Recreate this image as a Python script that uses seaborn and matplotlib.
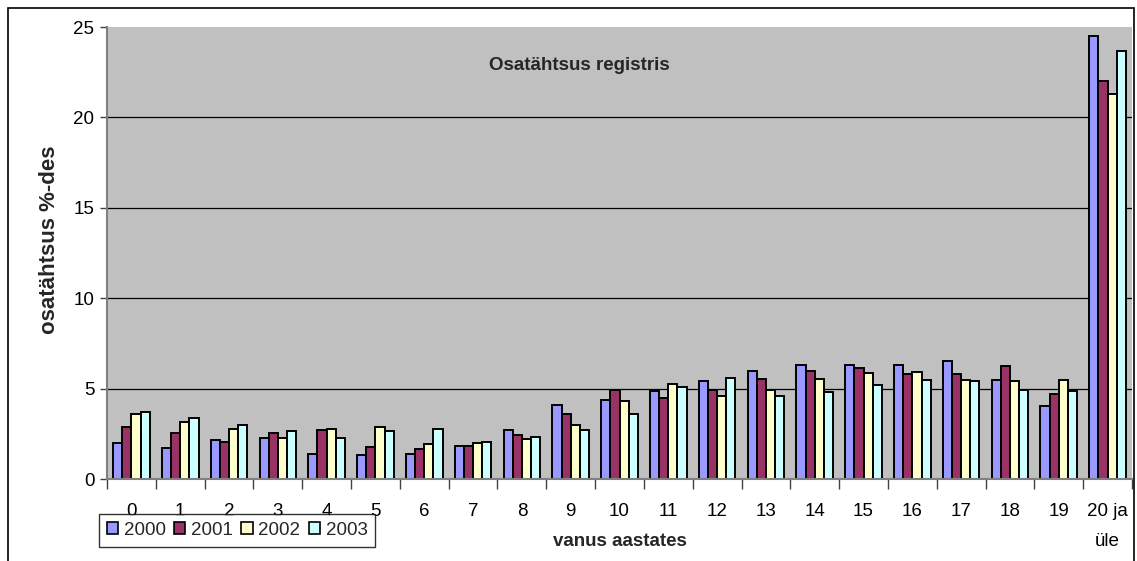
import numpy as np
import pandas as pd
import matplotlib
matplotlib.use("Agg")
import matplotlib.pyplot as plt
from matplotlib.ticker import FixedLocator
from matplotlib.patches import Rectangle
import seaborn as sns

# ---- data ----
ages = ["0", "1", "2", "3", "4", "5", "6", "7", "8", "9", "10", "11", "12", "13",
        "14", "15", "16", "17", "18", "19", "20 ja\nüle"]
years = ["2000", "2001", "2002", "2003"]
v2000 = [2.0, 1.7, 2.15, 2.25, 1.4, 1.3, 1.4, 1.8, 2.7, 4.1, 4.35, 4.85, 5.4, 6.0,
         6.3, 6.3, 6.3, 6.55, 5.45, 4.05, 24.5]
v2001 = [2.9, 2.55, 2.05, 2.55, 2.7, 1.75, 1.65, 1.8, 2.45, 3.6, 4.95, 4.5, 4.95, 5.55,
         6.0, 6.15, 5.8, 5.8, 6.25, 4.7, 22.0]
v2002 = [3.6, 3.15, 2.75, 2.25, 2.75, 2.85, 1.95, 2.0, 2.2, 3.0, 4.3, 5.25, 4.6, 4.95,
         5.55, 5.85, 5.9, 5.5, 5.4, 5.5, 21.3]
v2003 = [3.7, 3.35, 3.0, 2.65, 2.25, 2.65, 2.75, 2.05, 2.3, 2.7, 3.6, 5.1, 5.6, 4.6,
         4.8, 5.2, 5.45, 5.4, 4.95, 4.85, 23.7]
yticks = [0, 5, 10, 15, 20, 25]
colors = ["#9999FF", "#993366", "#FFFFCC", "#CCFFFF"]

title = "Osatähtsus registris"
xlabel = "vanus aastates"
ylabel = "osatähtsus %-des"

df = pd.DataFrame({
    "vanus": ages * 4,
    "aasta": sum([[y] * len(ages) for y in years], []),
    "value": v2000 + v2001 + v2002 + v2003,
})

sns.set_theme(style="white")
plt.rcParams["font.family"] = ["Liberation Sans", "DejaVu Sans"]

W, H = 1137, 561
fig = plt.figure(figsize=(W / 100, H / 100), dpi=100)
fig.patch.set_facecolor("white")

def fx(px):
    return px / W

def fy(py):
    return 1 - py / H

ax = fig.add_axes([fx(107), fy(479), fx(1132) - fx(107), fy(27) - fy(479)])
ax.set_facecolor("#C0C0C0")

for t in yticks[1:-1]:
    ax.axhline(t, color="black", lw=0.9, zorder=0.5)

sns.barplot(data=df, x="vanus", y="value", hue="aasta", order=ages, hue_order=years,
            palette=colors, width=0.75, gap=0, edgecolor="black", linewidth=1.4,
            saturation=1, ax=ax, errorbar=None)

handles, labels = ax.get_legend_handles_labels()
if ax.get_legend() is not None:
    ax.get_legend().remove()

ax.set_xlim(-0.5, len(ages) - 0.5)
ax.set_ylim(yticks[0], yticks[-1])
ax.set_yticks(yticks)
ax.set_yticklabels([str(t) for t in yticks], fontsize=13.5)
ax.set_xticks(range(len(ages)))
ax.set_xticklabels(ages, fontsize=13.5, linespacing=2.0)
ax.xaxis.set_minor_locator(FixedLocator(np.arange(-0.5, len(ages), 1.0)))
ax.tick_params(axis="x", which="major", length=0, pad=17, colors="black")
ax.tick_params(axis="x", which="minor", length=7, width=1, direction="out",
               color="#404040", bottom=True)
ax.tick_params(axis="y", which="major", length=5, width=1, direction="out",
               color="#404040", pad=4, labelcolor="black", left=True)
ax.set_xlabel("")
ax.set_ylabel("")

for s in ["top", "right"]:
    ax.spines[s].set_visible(False)
for s in ["left", "bottom"]:
    ax.spines[s].set_color("#808080")
    ax.spines[s].set_linewidth(1.5)

fig.text(fx(579), fy(65), title, ha="center", va="center", fontsize=13.5,
         fontweight="bold")
fig.text(fx(620), fy(542), xlabel, ha="center", va="center", fontsize=13.5,
         fontweight="bold")
fig.text(fx(50), fy(240), ylabel, ha="center", va="center", rotation=90,
         fontsize=16, fontweight="bold")

leg = fig.legend(handles, labels, loc="upper left", bbox_to_anchor=(fx(99), fy(514)),
                 ncol=4, fontsize=13.5, frameon=True, fancybox=False,
                 handlelength=0.6, handleheight=0.6, handletextpad=0.3,
                 columnspacing=0.45, borderpad=0.42, borderaxespad=0)
leg.get_frame().set_edgecolor("black")
leg.get_frame().set_linewidth(1.0)
leg.get_frame().set_facecolor("white")
for h in leg.legend_handles:
    h.set_edgecolor("black")
    h.set_linewidth(1.2)

# outer chart border (bottom edge lies below the visible area)
fig.patches.append(Rectangle((fx(8), -0.2), fx(1134) - fx(8), fy(8) + 0.2,
                             transform=fig.transFigure, fill=False,
                             edgecolor="black", linewidth=1.2))

fig.savefig("out.png", dpi=100)
